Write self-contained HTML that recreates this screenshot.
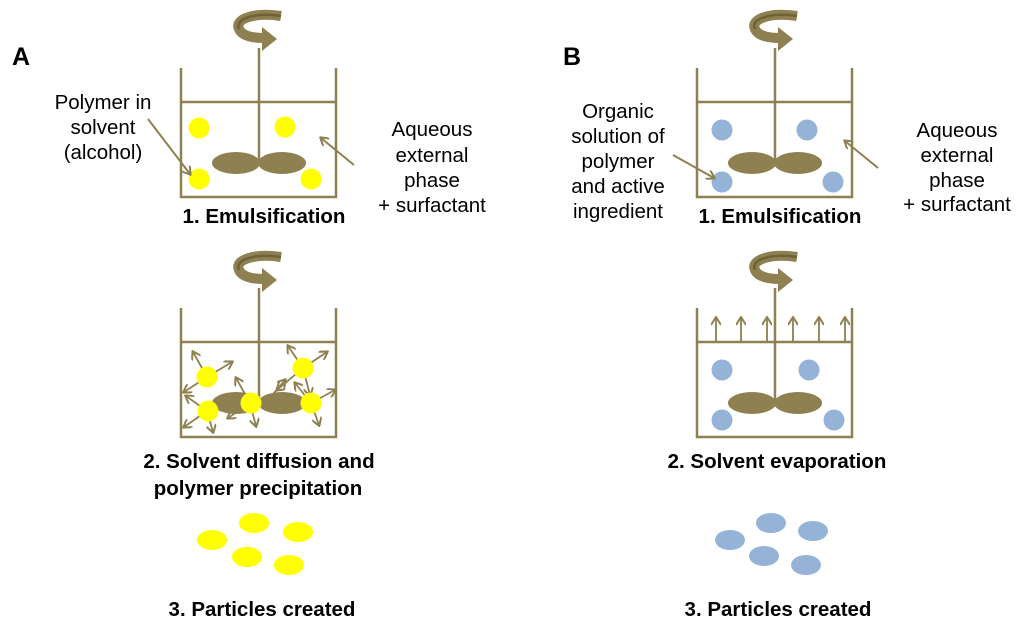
<!DOCTYPE html>
<html><head><meta charset="utf-8"><style>
html,body{margin:0;padding:0;background:#fff;}
svg{display:block;}
.lbl{font-family:"Liberation Sans",Arial,sans-serif;font-size:20.5px;fill:#000;text-anchor:middle;}
.st{font-family:"Liberation Sans",Arial,sans-serif;font-size:20.5px;font-weight:bold;fill:#000;text-anchor:middle;}
</style></head><body>
<svg width="1024" height="641" viewBox="0 0 1024 641" xmlns="http://www.w3.org/2000/svg">
<defs>
<marker id="ah" markerWidth="10" markerHeight="10" refX="8" refY="5" orient="auto" markerUnits="userSpaceOnUse">
<path d="M1,0 L9,5 L1,10" fill="none" stroke="#8E8050" stroke-width="2"/>
</marker>
<g id="rot">
<path d="M22,-14 C-5,-18 -25,-11 -20,-1 C-17,6 -6,8 5,8" fill="none" stroke="#8E8050" stroke-width="10"/>
<path d="M22,-14 C-5,-18 -25,-11 -20,-1" fill="none" stroke="#6f6238" stroke-width="2.5"/>
<polygon points="3,-3 18,9 3,21" fill="#8E8050"/>
</g>
<g id="beaker">
<polyline points="0,0 0,129 155,129 155,0" fill="none" stroke="#8E8050" stroke-width="2.5"/>
<line x1="0" y1="34" x2="155" y2="34" stroke="#8E8050" stroke-width="2.5"/>
<line x1="78" y1="-20" x2="78" y2="95" stroke="#8E8050" stroke-width="2.5"/>
<ellipse cx="55" cy="95" rx="24" ry="11" fill="#8E8050"/>
<ellipse cx="101" cy="95" rx="24" ry="11" fill="#8E8050"/>
</g>
</defs>

<text x="12" y="65" font-family="Liberation Sans,Arial,sans-serif" font-size="25" font-weight="bold">A</text>
<text x="563" y="65" font-family="Liberation Sans,Arial,sans-serif" font-size="25" font-weight="bold">B</text>

<!-- A1 -->
<use href="#rot" x="259" y="30"/>
<use href="#beaker" x="181" y="68"/>
<g fill="#FFFF00"><circle cx="199" cy="128" r="10.5"/><circle cx="285" cy="127" r="10.5"/><circle cx="199" cy="179" r="10.5"/><circle cx="311" cy="179" r="10.5"/></g>
<line x1="148" y1="119" x2="190" y2="174" stroke="#8E8050" stroke-width="2" marker-end="url(#ah)"/>
<line x1="354" y1="165" x2="321" y2="138" stroke="#8E8050" stroke-width="2" marker-end="url(#ah)"/>
<text class="lbl"><tspan x="103" y="109">Polymer in</tspan><tspan x="103" y="134">solvent</tspan><tspan x="103" y="159">(alcohol)</tspan></text>
<text class="lbl"><tspan x="432" y="136">Aqueous</tspan><tspan x="432" y="162">external</tspan><tspan x="432" y="187">phase</tspan><tspan x="432" y="212">+ surfactant</tspan></text>
<text class="st" x="264" y="223">1. Emulsification</text>

<!-- A2 -->
<use href="#rot" x="259" y="271"/>
<use href="#beaker" x="181" y="308"/>
<g stroke="#8E8050" stroke-width="1.8" marker-end="url(#ah)">
<line x1="207" y1="377" x2="193" y2="352"/><line x1="207" y1="377" x2="232" y2="362"/><line x1="207" y1="377" x2="184" y2="392"/>
<line x1="207" y1="411" x2="184" y2="427"/><line x1="207" y1="411" x2="213" y2="432"/><line x1="207" y1="411" x2="186" y2="396"/>
<line x1="250" y1="403" x2="236" y2="378"/><line x1="250" y1="403" x2="228" y2="418"/><line x1="250" y1="403" x2="256" y2="426"/>
<line x1="303" y1="368" x2="288" y2="346"/><line x1="303" y1="368" x2="327" y2="352"/><line x1="303" y1="368" x2="277" y2="390"/><line x1="303" y1="368" x2="310" y2="395"/>
<line x1="311" y1="403" x2="335" y2="390"/><line x1="311" y1="403" x2="319" y2="425"/><line x1="311" y1="403" x2="295" y2="383"/><line x1="268" y1="400" x2="285" y2="380"/>
</g>
<g fill="#FFFF00"><circle cx="207" cy="377" r="10.5"/><circle cx="303" cy="368" r="10.5"/><circle cx="208" cy="411" r="10.5"/><circle cx="251" cy="403" r="10.5"/><circle cx="311" cy="403" r="10.5"/></g>
<text class="st" x="259" y="468">2. Solvent diffusion and</text>
<text class="st" x="258" y="495">polymer precipitation</text>

<g fill="#FFFF00">
<ellipse cx="212" cy="540" rx="15" ry="10"/><ellipse cx="254" cy="523" rx="15" ry="10"/><ellipse cx="298" cy="532" rx="15" ry="10"/><ellipse cx="247" cy="557" rx="15" ry="10"/><ellipse cx="289" cy="565" rx="15" ry="10"/>
</g>
<text class="st" x="262" y="616">3. Particles created</text>

<!-- B1 -->
<use href="#rot" x="775" y="30"/>
<use href="#beaker" x="697" y="68"/>
<g fill="#95B3D7"><circle cx="722" cy="130" r="10.5"/><circle cx="807" cy="130" r="10.5"/><circle cx="722" cy="182" r="10.5"/><circle cx="833" cy="182" r="10.5"/></g>
<line x1="673" y1="155" x2="714" y2="178" stroke="#8E8050" stroke-width="2" marker-end="url(#ah)"/>
<line x1="878" y1="168" x2="845" y2="141" stroke="#8E8050" stroke-width="2" marker-end="url(#ah)"/>
<text class="lbl"><tspan x="618" y="118">Organic</tspan><tspan x="618" y="143">solution of</tspan><tspan x="618" y="168">polymer</tspan><tspan x="618" y="193">and active</tspan><tspan x="618" y="218">ingredient</tspan></text>
<text class="lbl"><tspan x="957" y="137">Aqueous</tspan><tspan x="957" y="162">external</tspan><tspan x="957" y="187">phase</tspan><tspan x="957" y="211">+ surfactant</tspan></text>
<text class="st" x="780" y="223">1. Emulsification</text>

<!-- B2 -->
<use href="#rot" x="775" y="271"/>
<use href="#beaker" x="697" y="308"/>
<g stroke="#8E8050" stroke-width="1.8" marker-end="url(#ah)">
<line x1="716" y1="342" x2="716" y2="318"/><line x1="741" y1="342" x2="741" y2="318"/><line x1="767" y1="342" x2="767" y2="318"/>
<line x1="793" y1="342" x2="793" y2="318"/><line x1="819" y1="342" x2="819" y2="318"/><line x1="845" y1="342" x2="845" y2="318"/>
</g>
<g fill="#95B3D7"><circle cx="722" cy="370" r="10.5"/><circle cx="809" cy="370" r="10.5"/><circle cx="722" cy="420" r="10.5"/><circle cx="834" cy="420" r="10.5"/></g>
<text class="st" x="777" y="468">2. Solvent evaporation</text>

<g fill="#95B3D7">
<ellipse cx="730" cy="540" rx="15" ry="10"/><ellipse cx="771" cy="523" rx="15" ry="10"/><ellipse cx="813" cy="531" rx="15" ry="10"/><ellipse cx="764" cy="556" rx="15" ry="10"/><ellipse cx="806" cy="565" rx="15" ry="10"/>
</g>
<text class="st" x="778" y="616">3. Particles created</text>
</svg>
</body></html>
